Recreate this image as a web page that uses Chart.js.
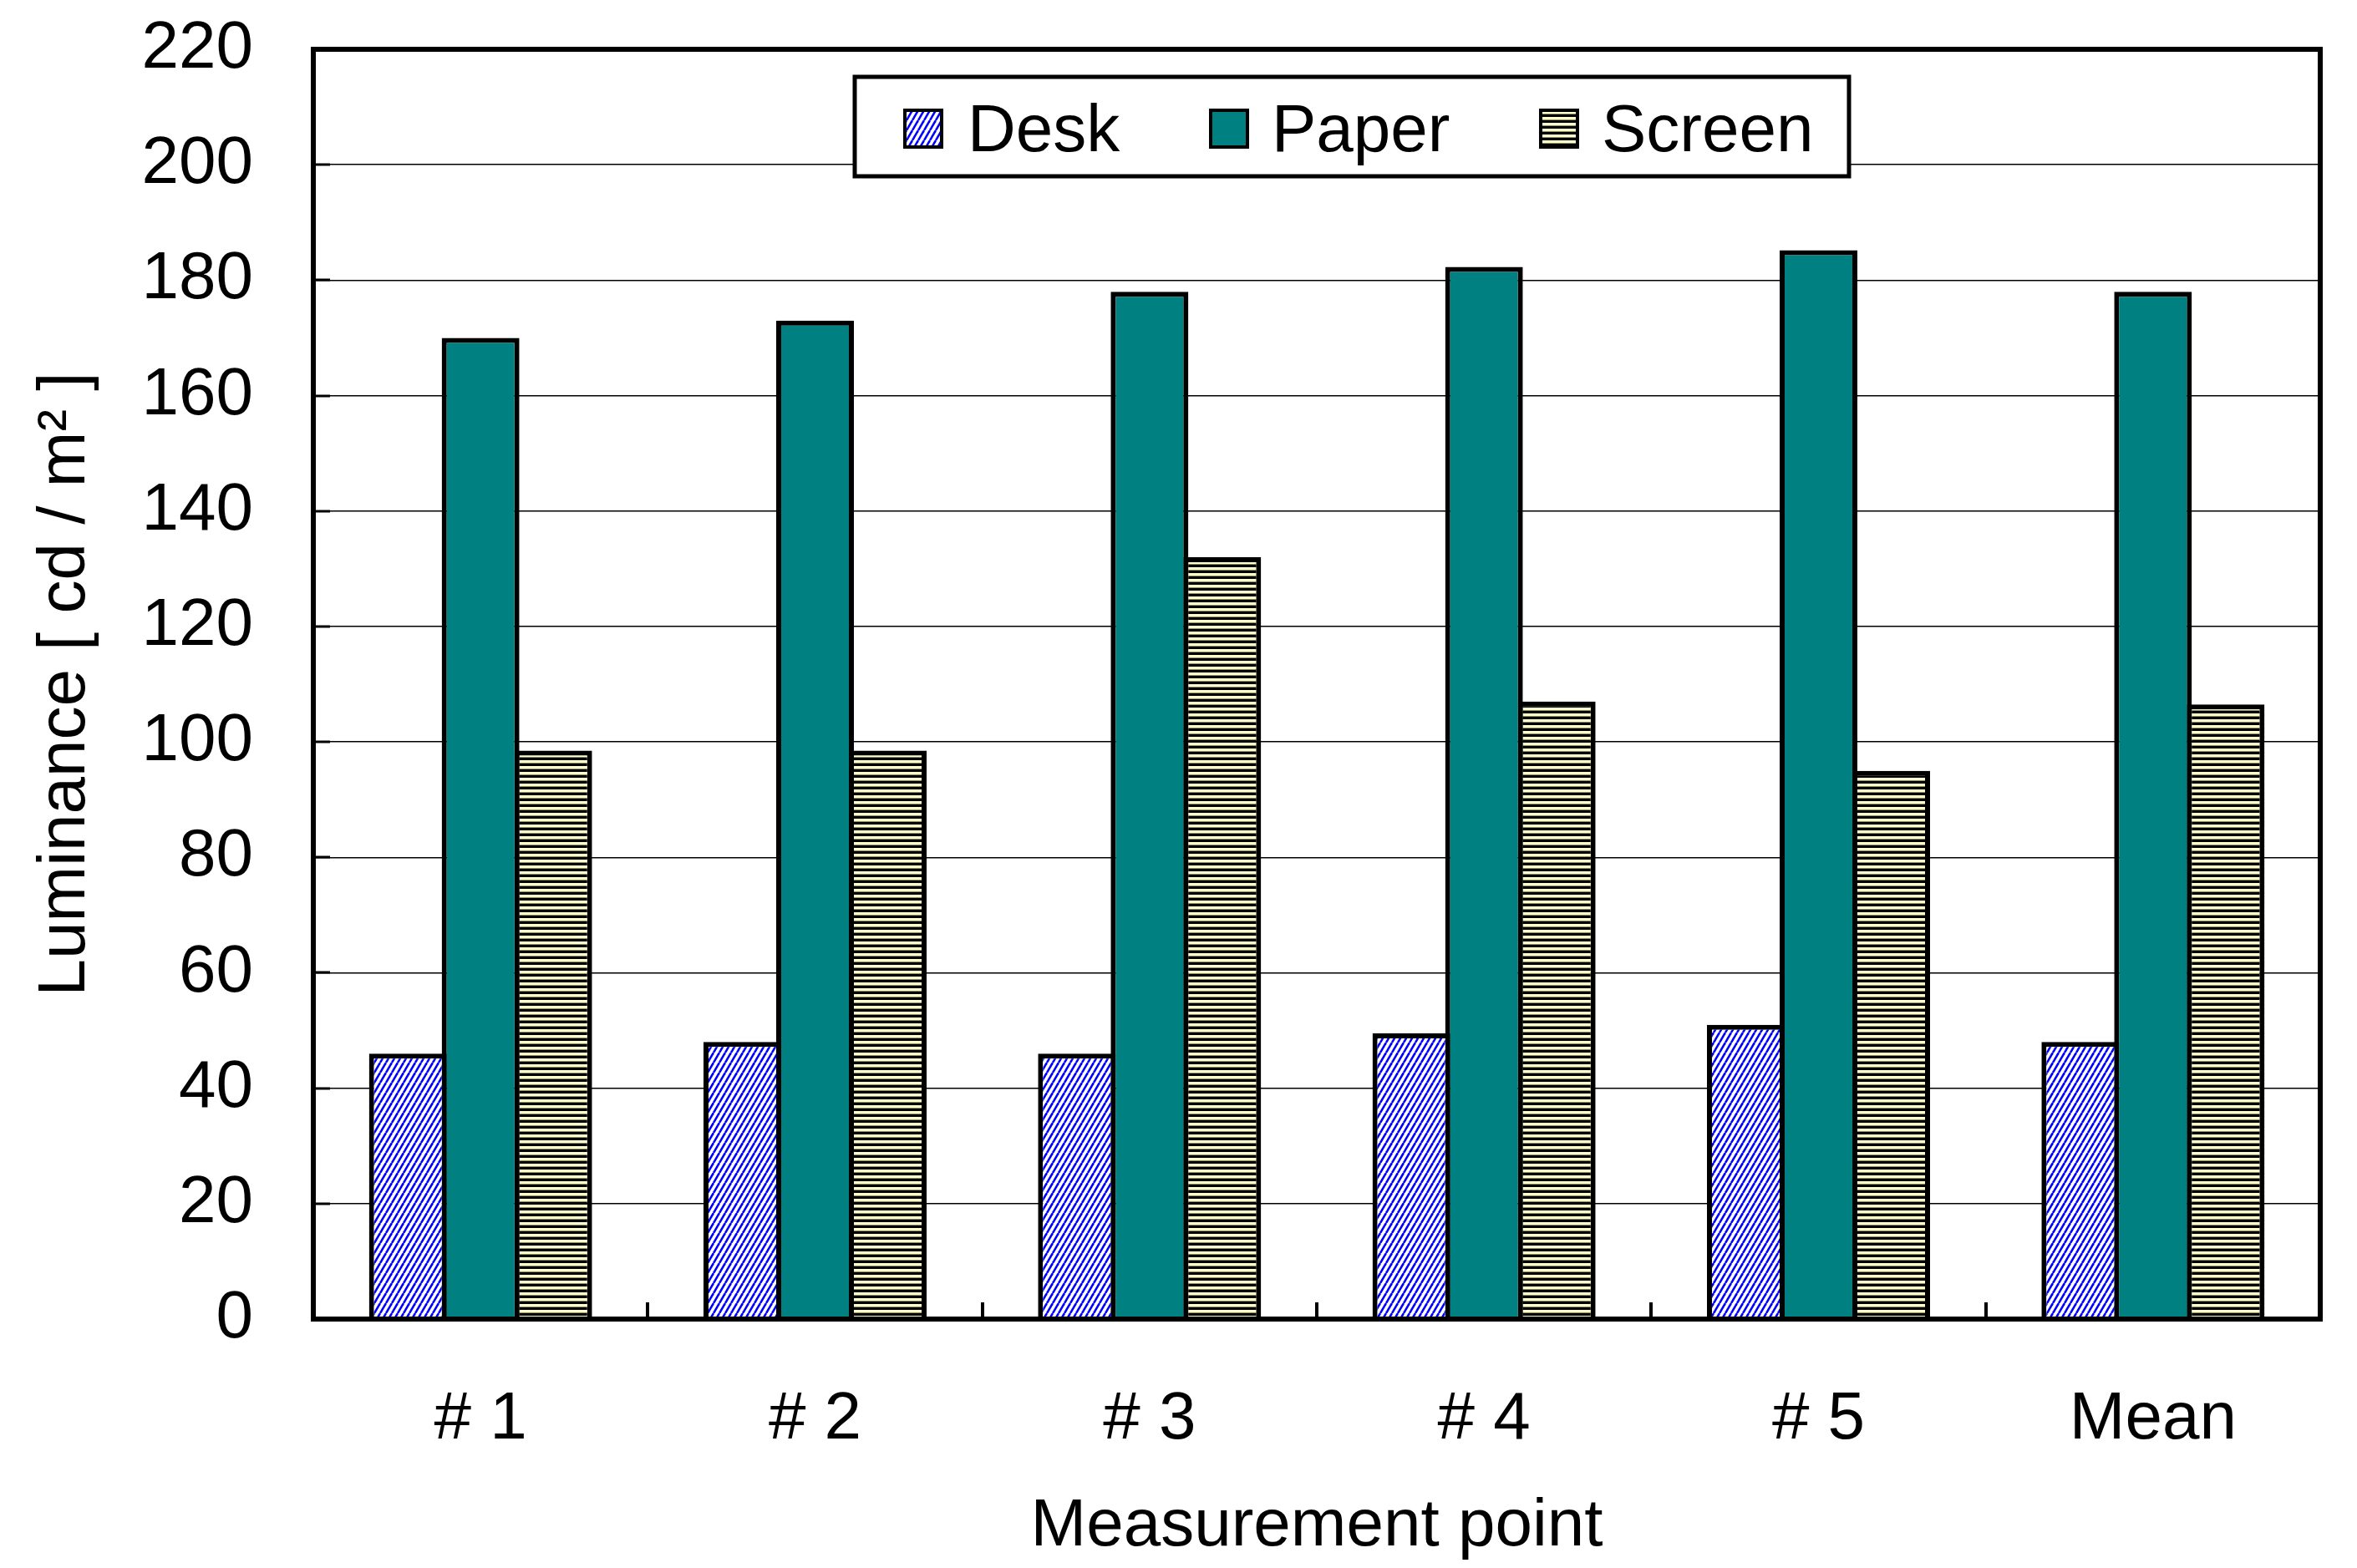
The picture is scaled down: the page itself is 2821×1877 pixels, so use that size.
<!DOCTYPE html>
<html lang="en">
<head>
    <meta charset="UTF-8">
    <title>Luminance by measurement point</title>
    <script src="https://cdn.jsdelivr.net/npm/chart.js"></script>
    <style>
        html, body { margin: 0; padding: 0; background: #fff; }
        #wrap { width: 2821px; height: 1877px; position: relative; }
    </style>
</head>
<body>
    <div id="wrap"><canvas id="lumChart"></canvas></div>

    <script>
        // values
        const categories = ['# 1', '# 2', '# 3', '# 4', '# 5', 'Mean'];
        const deskValues = [46, 48, 46, 49.5, 51, 48];
        const paperValues = [170, 173, 178, 182.3, 185.2, 178];
        const screenValues = [98.5, 98.5, 132, 107, 95, 106.5];
        const seriesNames = ['Desk', 'Paper', 'Screen'];
        const yTicks = { min: 0, max: 220, step: 20 };

        const FONT = '"Liberation Sans", Arial, sans-serif';

        // blue diagonal hatch
        function deskPattern() {
            const c = document.createElement('canvas');
            c.width = 7; c.height = 12;
            const g = c.getContext('2d');
            g.fillStyle = '#fff';
            g.fillRect(0, 0, 7, 12);
            g.strokeStyle = '#0000ff';
            g.lineWidth = 2.6;
            for (let k = -1; k <= 1; k++) {
                g.beginPath();
                g.moveTo(k * 7, 12);
                g.lineTo(k * 7 + 7, 0);
                g.stroke();
            }
            return g.createPattern(c, 'repeat');
        }

        // black / pale yellow horizontal stripes
        function screenPattern() {
            const c = document.createElement('canvas');
            c.width = 8; c.height = 7;
            const g = c.getContext('2d');
            g.fillStyle = '#ffffcc';
            g.fillRect(0, 0, 8, 3);
            g.fillStyle = '#8f8c66';
            g.fillRect(0, 3, 8, 1);
            g.fillStyle = '#000';
            g.fillRect(0, 4, 8, 3);
            return g.createPattern(c, 'repeat');
        }

        const fills = [deskPattern(), '#008080', screenPattern()];

        // frame round the plot and the short inner tick marks
        const framePlugin = {
            id: 'frame',
            afterDatasetsDraw(chart) {
                const { ctx, chartArea: a } = chart;
                const x = chart.scales.x, y = chart.scales.y;
                ctx.save();
                ctx.strokeStyle = '#000';
                ctx.lineWidth = 3;
                y.ticks.forEach(t => {
                    const py = Math.round(y.getPixelForValue(t.value));
                    ctx.beginPath();
                    ctx.moveTo(a.left, py);
                    ctx.lineTo(a.left + 20, py);
                    ctx.stroke();
                });
                ctx.lineWidth = 4;
                for (let i = 0; i < categories.length - 1; i++) {
                    const px = Math.round((x.getPixelForValue(i) + x.getPixelForValue(i + 1)) / 2);
                    ctx.beginPath();
                    ctx.moveTo(px, a.bottom);
                    ctx.lineTo(px, a.bottom - 20);
                    ctx.stroke();
                }
                ctx.lineWidth = 6;
                ctx.strokeRect(a.left, a.top, a.right - a.left, a.bottom - a.top);
                ctx.restore();
            }
        };

        // boxed legend sitting inside the plot
        const legendPlugin = {
            id: 'boxLegend',
            afterDraw(chart) {
                const { ctx, chartArea: a } = chart;
                const bx = a.left + 648, by = a.top + 33, bw = 1190, bh = 119;
                ctx.save();
                ctx.fillStyle = '#fff';
                ctx.fillRect(bx, by, bw, bh);
                ctx.strokeStyle = '#000';
                ctx.lineWidth = 5;
                ctx.strokeRect(bx, by, bw, bh);

                const swatchX = [a.left + 706, a.left + 1072, a.left + 1467];
                const textX = [a.left + 783, a.left + 1147, a.left + 1542];
                ctx.font = '80px ' + FONT;
                ctx.textBaseline = 'alphabetic';
                ctx.textAlign = 'left';
                chart.data.datasets.forEach((ds, i) => {
                    const sx = swatchX[i], sy = a.top + 71, s = 48;
                    ctx.fillStyle = '#000';
                    ctx.fillRect(sx, sy, s, s);
                    ctx.fillStyle = ds.backgroundColor;
                    ctx.fillRect(sx + 4, sy + 4, s - 8, s - 8);
                    ctx.fillStyle = '#000';
                    ctx.fillText(ds.label, textX[i], a.top + 122);
                });
                ctx.restore();
            }
        };

        const ctx = document.getElementById('lumChart').getContext('2d');
        new Chart(ctx, {
            type: 'bar',
            data: {
                labels: categories,
                datasets: [deskValues, paperValues, screenValues].map((vals, i) => ({
                    label: seriesNames[i],
                    data: vals,
                    backgroundColor: fills[i],
                    borderColor: '#000',
                    borderWidth: 6,
                    borderSkipped: 'start',
                    categoryPercentage: 0.652,
                    barPercentage: 1.069
                }))
            },
            options: {
                responsive: true,
                maintainAspectRatio: false,
                animation: false,
                layout: { padding: { left: 0, top: 59, right: 44, bottom: 0 } },
                plugins: {
                    legend: { display: false },
                    tooltip: { enabled: false }
                },
                scales: {
                    x: {
                        offset: true,
                        grid: { display: false },
                        border: { display: false },
                        ticks: {
                            color: '#000',
                            font: { family: FONT, size: 80 },
                            padding: 65,
                            maxRotation: 0
                        },
                        title: {
                            display: true,
                            text: 'Measurement point',
                            color: '#000',
                            font: { family: FONT, size: 80 },
                            padding: { top: 0, bottom: 1 }
                        },
                        afterFit(scale) {
                            scale.height = 298;
                            scale.paddingLeft = 0;
                            scale.paddingRight = 0;
                        }
                    },
                    y: {
                        min: yTicks.min,
                        max: yTicks.max,
                        ticks: {
                            stepSize: yTicks.step,
                            color: '#000',
                            font: { family: FONT, size: 80 },
                            padding: 72
                        },
                        grid: {
                            color: '#000',
                            lineWidth: 1.5,
                            drawTicks: false
                        },
                        border: { display: false },
                        title: {
                            display: true,
                            text: 'Luminance [ cd / m\u00B2 ]',
                            color: '#000',
                            font: { family: FONT, size: 80 },
                            padding: { top: 31, bottom: 0 }
                        },
                        afterFit(scale) {
                            scale.width = 375;
                            scale.paddingTop = 0;
                            scale.paddingBottom = 0;
                        }
                    }
                }
            },
            plugins: [framePlugin, legendPlugin]
        });
    </script>
</body>
</html>
